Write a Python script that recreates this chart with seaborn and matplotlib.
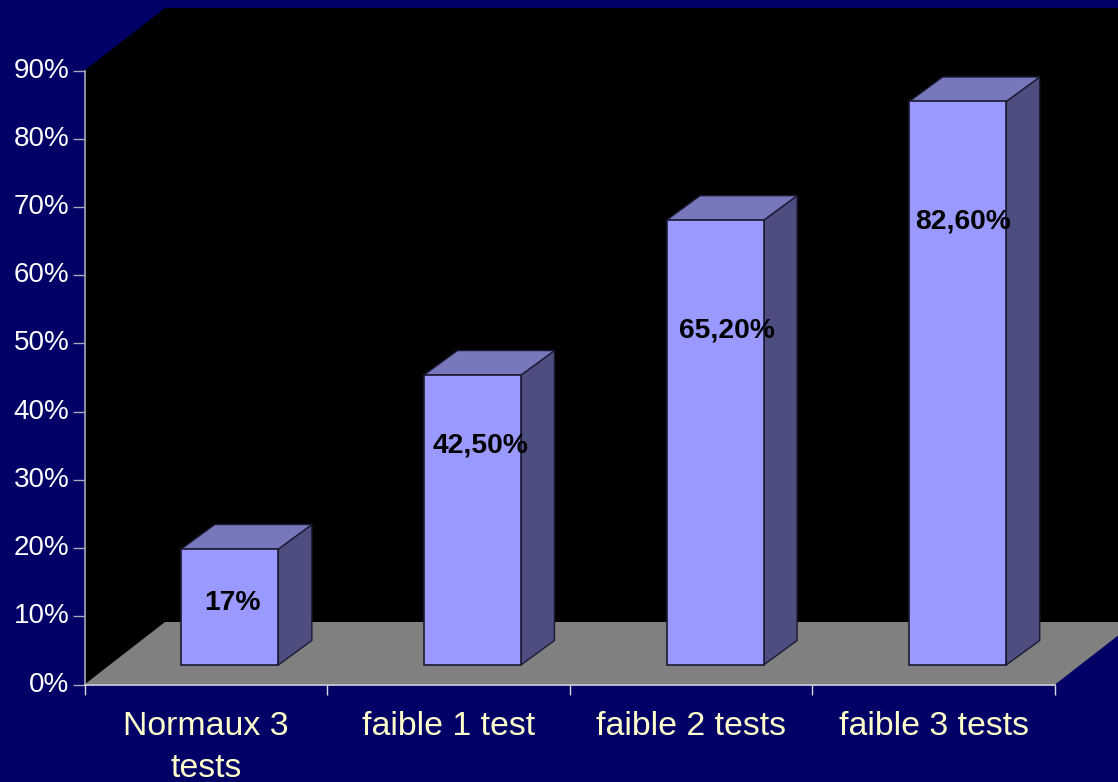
import matplotlib
matplotlib.use("Agg")
import matplotlib.pyplot as plt
import seaborn as sns
import pandas as pd
from matplotlib.patches import Polygon
from matplotlib.transforms import Affine2D

categories = ["Normaux 3\ntests", "faible 1 test", "faible 2 tests", "faible 3 tests"]
values = [17, 42.5, 65.2, 82.6]
value_labels = ["17%", "42,50%", "65,20%", "82,60%"]
y_ticks = [0, 10, 20, 30, 40, 50, 60, 70, 80, 90]

NAVY = "#000066"
FRONT, TOP, SIDE = "#9999FF", "#7777BC", "#4D4D80"
AXIS = "#A8A8B8"
EDGE = "#1A1A33"

W, H = 1118, 782
sns.set_theme(style="white")
plt.rcParams["font.family"] = ["Liberation Sans", "DejaVu Sans"]

fig = plt.figure(figsize=(W / 100, H / 100), dpi=100, facecolor=NAVY)
x0, x1, y_bottom, y_top = 84.5, 1055, 684.5, 70.5
ax = fig.add_axes([x0 / W, 1 - y_bottom / H, (x1 - x0) / W, (y_bottom - y_top) / H])
ax.set_facecolor("none")

df = pd.DataFrame({"cat": categories, "val": values})
sns.barplot(data=df, x="cat", y="val", width=0.4, color=FRONT, saturation=1,
            edgecolor=EDGE, linewidth=1.2, ax=ax, zorder=5)
ax.set_xlim(-0.5, 3.5)
ax.set_ylim(0, 90)
ax.set_xlabel("")
ax.set_ylabel("")


def shifted(dx, dy):
    return ax.transData + Affine2D().translate(dx, dy)


# Back wall and floor, displaced in pixels for the oblique view
px_per_x = (x1 - x0) / 4
px_per_y = (y_bottom - y_top) / 90
dx_d, dy_d = 80.5 / px_per_x, 62.5 / px_per_y
ax.add_patch(Polygon([(-0.5, 0), (3.5, 0), (3.5, 90), (-0.5, 90)], closed=True,
                     facecolor="black", edgecolor="none", clip_on=False, zorder=0))
ax.add_patch(Polygon([(-0.5 + dx_d, dy_d), (3.5 + dx_d, dy_d), (3.5 + dx_d, 90 + dy_d), (-0.5 + dx_d, 90 + dy_d)],
                     closed=True, facecolor="black", edgecolor="none", clip_on=False, zorder=0))
ax.add_patch(Polygon([(-0.5, 90), (-0.5 + dx_d, 90 + dy_d), (-0.5 + dx_d, dy_d), (-0.5, 0)], closed=True,
                     facecolor="black", edgecolor="none", clip_on=False, zorder=0))
ax.add_patch(Polygon([(3.5, 0), (3.5 + dx_d, dy_d), (3.5 + dx_d, 0)], closed=True,
                     facecolor=NAVY, edgecolor="none", clip_on=False, zorder=0.5))
ax.add_patch(Polygon([(-0.5, 0), (-0.5 + dx_d, dy_d), (3.5 + dx_d, dy_d), (3.5, 0)], closed=True,
                     facecolor="#808080", edgecolor="none", clip_on=False, zorder=1))

# Bars: front face from seaborn, displaced; sides and tops derived from it
bar_dx, bar_dy = 24, 19.5
depth_x, depth_y = 33.5 / px_per_x, 24.5 / px_per_y
trans = shifted(bar_dx, bar_dy)
for rect in ax.containers[0]:
    rect.set_transform(trans)
    rect.set_clip_on(False)
    a, b, h = rect.get_x(), rect.get_x() + rect.get_width(), rect.get_height()
    ax.add_patch(Polygon([(b, 0), (b + depth_x, depth_y), (b + depth_x, h + depth_y), (b, h)], closed=True,
                         transform=trans, facecolor=SIDE, edgecolor=EDGE, linewidth=1,
                         clip_on=False, zorder=4))
    ax.add_patch(Polygon([(a, h), (a + depth_x, h + depth_y), (b + depth_x, h + depth_y), (b, h)], closed=True,
                         transform=trans, facecolor=TOP, edgecolor=EDGE, linewidth=1,
                         clip_on=False, zorder=4))

# Value labels sit at hand-placed heights inside the bars
label_dx = [0.108, 0.134, 0.148, 0.12]
label_y = [12.0, 35.0, 51.9, 67.8]
for i, text in enumerate(value_labels):
    ax.text(i + label_dx[i], label_y[i], text, ha="center", va="center", color="black",
            fontsize=20.3, fontweight="bold", zorder=8, clip_on=False)

# Axes
for s in ("top", "right"):
    ax.spines[s].set_visible(False)
ax.spines["left"].set_color(AXIS)
ax.spines["left"].set_linewidth(1.2)
ax.spines["bottom"].set_color("#D8D8E0")
ax.spines["bottom"].set_linewidth(1.2)
for s in ax.spines.values():
    s.set_zorder(6)

ax.set_yticks(y_ticks)
ax.set_yticklabels([f"{v}%" for v in y_ticks], va="center")
ax.tick_params(axis="y", left=True, length=8.5, width=1, color=AXIS, colors="white",
               labelsize=20, pad=2.5)
ax.set_xticks(range(len(categories)))
ax.set_xticklabels(categories, color="#FFFFCC", fontsize=24.4, linespacing=1.44)
ax.tick_params(axis="x", bottom=False, pad=13.3, labelcolor="#FFFFCC")
ax.set_xticks([-0.5, 0.5, 1.5, 2.5, 3.5], minor=True)
ax.tick_params(axis="x", which="minor", bottom=True, length=7.5, width=1, color="#D8D8E0")

fig.savefig("out.png", dpi=100, facecolor=NAVY)
